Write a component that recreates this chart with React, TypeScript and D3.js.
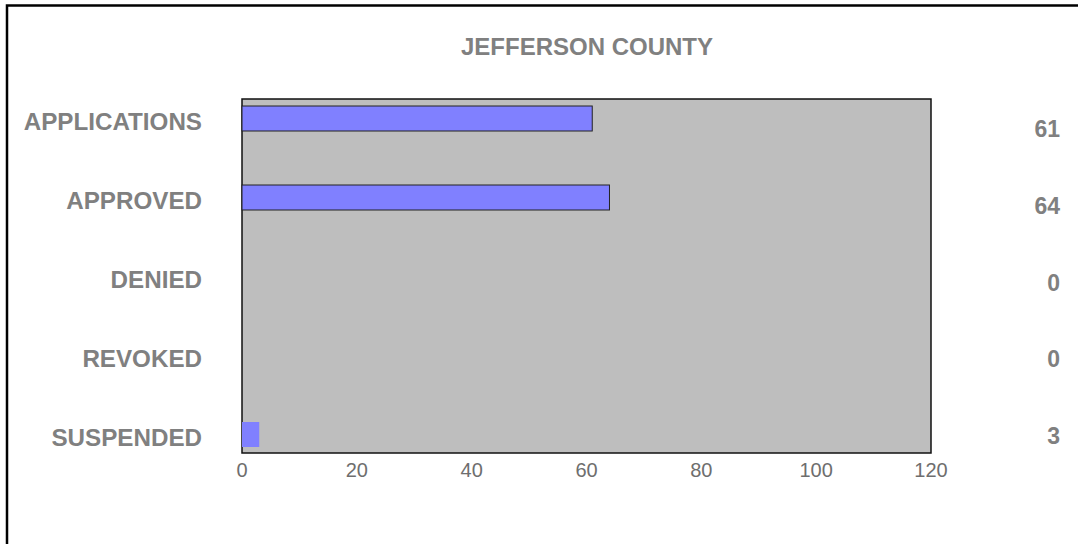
import React from "react";
import * as d3 from "d3";

const categories = ["APPLICATIONS", "APPROVED", "DENIED", "REVOKED", "SUSPENDED"];
const values = [61, 64, 0, 0, 3];
const valueLabels = ["61", "64", "0", "0", "3"];
const xTicks = [0, 20, 40, 60, 80, 100, 120];
const title = "JEFFERSON COUNTY";

const W = 1078;
const H = 544;
const plot = { left: 242, right: 931, top: 99, bottom: 453 };

export default function App() {
  const x = d3.scaleLinear().domain([0, 120]).range([plot.left, plot.right]);
  const yBar = d3.scalePoint<string>().domain(categories).range([118.5, 434.5]);
  const yVal = d3.scalePoint<string>().domain(categories).range([137, 444]);
  const barH = 25;
  const font = "'Liberation Sans', Arial, Helvetica, sans-serif";
  const grey = "#808080";

  return (
    <svg
      width={W}
      height={H}
      style={{ position: "absolute", left: 0, top: 0, background: "#fff" }}
      fontFamily={font}
    >
      <rect x={7} y={5.5} width={W + 10} height={H + 10} fill="#fff" stroke="#000" strokeWidth={2.5} />
      <text x={587} y={55} textAnchor="middle" fontSize={24} fontWeight="bold" fill={grey}>
        {title}
      </text>
      <rect
        x={plot.left}
        y={plot.top}
        width={plot.right - plot.left}
        height={plot.bottom - plot.top}
        fill="#BEBEBE"
        stroke="#111"
        strokeWidth={1.5}
      />
      {categories.map((c, i) =>
        values[i] > 0 ? (
          <rect
            key={c}
            x={x(0)}
            y={(yBar(c) as number) - barH / 2}
            width={x(values[i]) - x(0)}
            height={barH}
            fill="#8080FF"
            stroke={values[i] > 5 ? "#222" : "none"}
            strokeWidth={1}
          />
        ) : null
      )}
      {categories.map((c) => (
        <text
          key={"l" + c}
          x={202}
          y={(yBar(c) as number) + 11}
          textAnchor="end"
          fontSize={24.2}
          fontWeight="bold"
          fill={grey}
        >
          {c}
        </text>
      ))}
      {categories.map((c, i) => (
        <text
          key={"v" + c}
          x={1060}
          y={yVal(c) as number}
          textAnchor="end"
          fontSize={23}
          fontWeight="bold"
          fill={grey}
        >
          {valueLabels[i]}
        </text>
      ))}
      {xTicks.map((t) => (
        <text key={"t" + t} x={x(t)} y={477} textAnchor="middle" fontSize={20} fill="#6e6e6e">
          {t}
        </text>
      ))}
    </svg>
  );
}
